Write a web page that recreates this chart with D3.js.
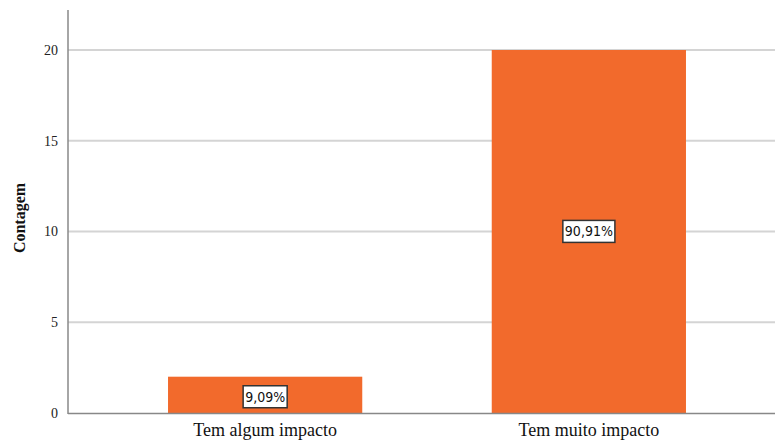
<!DOCTYPE html>
<html><head><meta charset="utf-8">
<script src="https://cdn.jsdelivr.net/npm/d3@7"></script>
<style>body{margin:0;background:#fff}svg{display:block}
.serif{font-family:"Liberation Serif","DejaVu Serif",serif}</style>
</head><body>
<script>
const categories = ["Tem algum impacto", "Tem muito impacto"];
const counts = [2, 20];
const percentLabels = ["9,09%", "90,91%"];
const yTicks = [0, 5, 10, 15, 20];

const W = 775, H = 446;
const svg = d3.select("body").append("svg").attr("width", W).attr("height", H);
const x0 = 68, y0 = 413;
const x = d3.scaleBand().domain(categories).range([x0, 786]).paddingInner(0.4).paddingOuter(0.309);
const y = d3.scaleLinear().domain([0, 20]).range([y0, 50]);

// gridlines
svg.append("g").selectAll("line").data(yTicks.filter(d => d > 0)).join("line")
  .attr("x1", x0).attr("x2", W).attr("y1", d => y(d)).attr("y2", d => y(d))
  .attr("stroke", "#d4d4d4").attr("stroke-width", 2);

// bars
svg.append("g").selectAll("rect").data(counts).join("rect")
  .attr("x", (d, i) => x(categories[i])).attr("width", x.bandwidth())
  .attr("y", d => y(d)).attr("height", d => y0 - y(d))
  .attr("fill", "#f26a2c");

// axes
const ya = svg.append("g").attr("transform", `translate(${x0},0)`)
  .call(d3.axisLeft(y).tickValues(yTicks).tickSize(0).tickPadding(10));
ya.select(".domain").remove();
ya.attr("font-family", null).attr("font-size", null);
ya.selectAll("text").attr("class", "serif").style("font-size", "14px").attr("fill", "#222");
svg.append("line").attr("x1", x0).attr("x2", x0).attr("y1", 10).attr("y2", y0 + 1)
  .attr("stroke", "#888").attr("stroke-width", 1.5);
svg.append("line").attr("x1", x0).attr("x2", W).attr("y1", y0 + 0.5).attr("y2", y0 + 0.5)
  .attr("stroke", "#888").attr("stroke-width", 1.5);

const xa = svg.append("g").attr("transform", `translate(0,${y0})`)
  .call(d3.axisBottom(x).tickSize(0).tickPadding(10));
xa.select(".domain").remove();
xa.attr("font-family", null).attr("font-size", null);
xa.selectAll("text").attr("class", "serif").style("font-size", "18px").attr("fill", "#111");

// y title
svg.append("text").attr("class", "serif").attr("transform", `translate(25,${218}) rotate(-90)`)
  .attr("text-anchor", "middle")
  .style("font-weight", "bold").style("font-size", "16px").attr("fill", "#111").text("Contagem");

// value labels
const lab = svg.append("g").selectAll("g").data(counts).join("g")
  .attr("transform", (d, i) => `translate(${x(categories[i]) + x.bandwidth() / 2},${(y(d) + y0) / 2 + (i === 0 ? 2 : 0)})`);
lab.append("text").attr("text-anchor", "middle").attr("dy", "0.35em")
  .style("font-family", "'DejaVu Sans Condensed', 'DejaVu Sans', sans-serif").style("font-size", "14px")
  .attr("fill", "#111").text((d, i) => percentLabels[i]);
lab.each(function() {
  const g = d3.select(this);
  const bb = g.select("text").node().getBBox();
  g.insert("rect", "text").attr("x", bb.x - 2).attr("y", bb.y - 3)
    .attr("width", bb.width + 4).attr("height", bb.height + 6)
    .attr("fill", "#fff").attr("stroke", "#333").attr("stroke-width", 1.5);
});
</script>
</body></html>
